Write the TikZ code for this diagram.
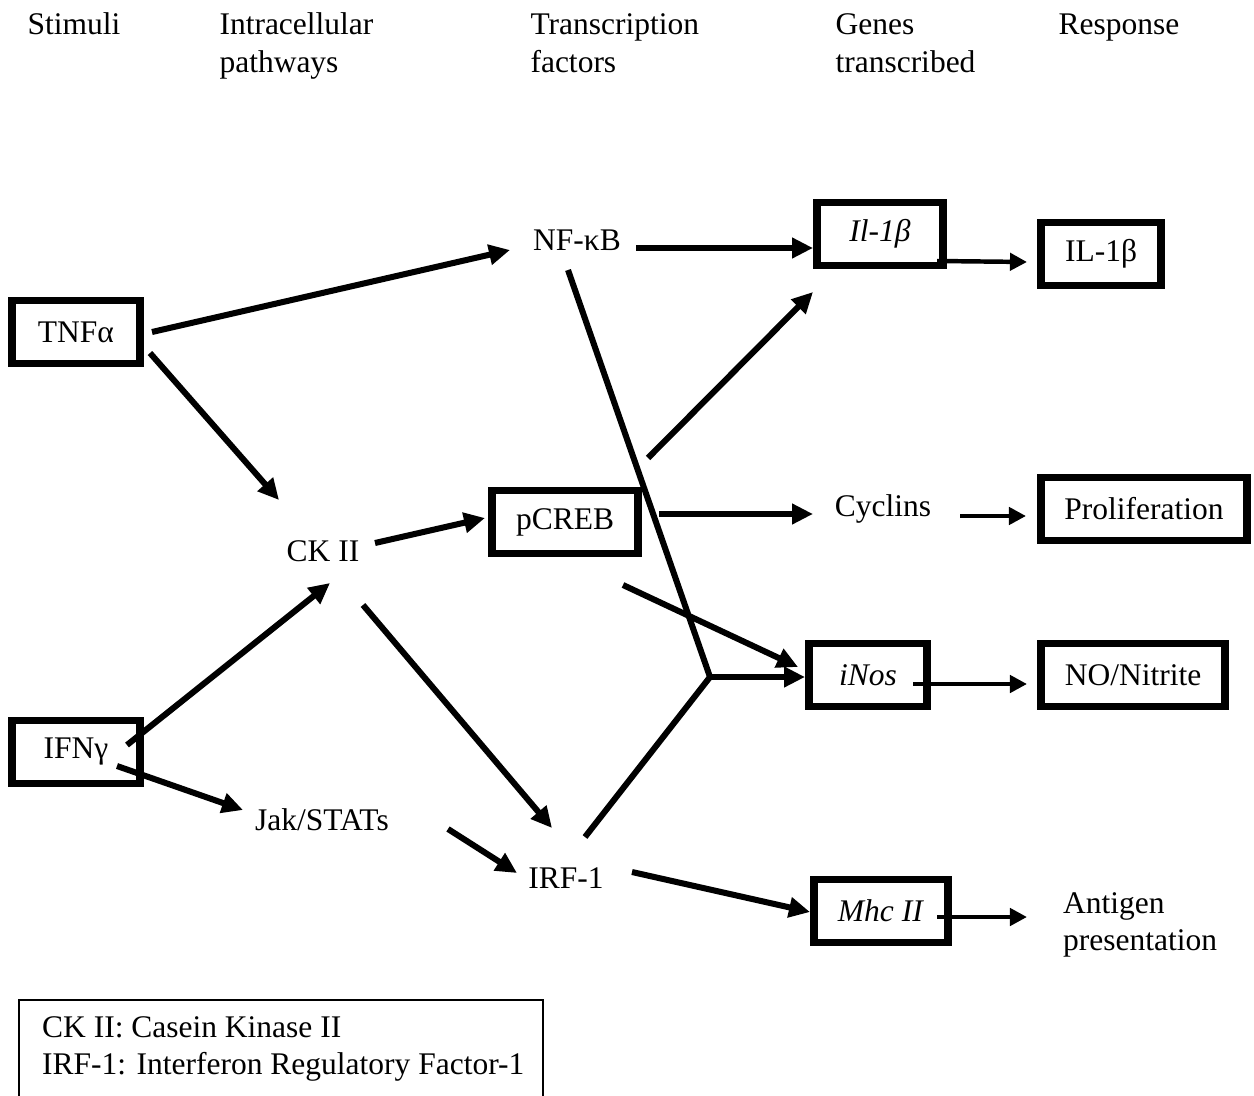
\documentclass[tikz,border=0pt]{standalone}
\usepackage{fontspec}
\setmainfont{Liberation Serif}
\usetikzlibrary{arrows.meta,calc}
\tikzset{
  box/.style={draw=black, line width=3pt, inner xsep=9pt, minimum height=24pt, minimum width=45pt},
  plain/.style={inner sep=1pt},
  colhead/.style={anchor=west, align=left, inner sep=0pt},
  arrow/.style={-{Triangle[length=8pt,width=7.5pt]}, line width=2.3pt},
  thinarrow/.style={-{Triangle[length=6.5pt,width=6.5pt]}, line width=1.7pt},
  link/.style={line width=2.3pt, line join=round},
  legendframe/.style={draw=black, line width=0.8pt}
}

\begin{document}
\begin{tikzpicture}[x=0.381pt, y=-0.381pt, font=\fontsize{12pt}{14.4pt}\selectfont]
  \useasboundingbox (0,0) rectangle (1254,1095);
  % column heads
  \node[colhead, anchor=base west] (hstim) at (27,35) {Stimuli};
  \node[colhead] (hpath) at (219,46) {Intracellular\\pathways};
  \node[colhead] (htf) at (530,43) {Transcription\\factors};
  \node[colhead] (hgene) at (835,43) {Genes\\transcribed};
  \node[colhead, anchor=base west] (hresp) at (1058,35) {Response};
  % stimuli and pathways
  \node[box, minimum width=49pt] (tnf) at (76,332) {TNFα};
  \node[box, minimum width=49pt] (ifn) at (76,752) {IFNγ};
  \node[plain] (ck) at (323,551) {CK II};
  \node[plain] (jak) at (322,820) {Jak/STATs};
  % transcription factors
  \node[plain] (nfkb) at (577,240) {NF-κB};
  \node[box] (creb) at (565,522) {pCREB};
  \node[plain] (irf) at (566,878) {IRF-1};
  % genes and responses
  \node[box, minimum width=48pt] (ilgene) at (880,234) {\textit{Il-1β}};
  \node[plain] (cyc) at (883,509) {Cyclins};
  \node[box] (inos) at (868,675) {\textit{iNos}};
  \node[box] (mhc) at (881,911) {\textit{Mhc II}};
  \node[box] (ilprot) at (1101,254) {IL-1β};
  \node[box] (prolif) at (1144,509) {Proliferation};
  \node[box] (nitrite) at (1133,675) {NO/Nitrite};
  \node[plain, anchor=west, align=left] (antigen) at (1060,925) {Antigen\\presentation};
  \coordinate (jn) at (710,677);

  \draw[arrow] ([shift={(76,0)}]tnf.center) -- ([shift={(-67,10)}]nfkb.center);
  \draw[arrow] ([shift={(74,21)}]tnf.center) -- ([shift={(-44,-51)}]ck.center);
  \draw[arrow] ([shift={(52,-8)}]ck.center) -- ([shift={(-80,-4)}]creb.center);
  \draw[arrow] ([shift={(51,-7)}]ifn.center) -- ([shift={(7,32)}]ck.center);
  \draw[arrow] ([shift={(41,14)}]ifn.center) -- ([shift={(-79,-10)}]jak.center);
  \draw[arrow] ([shift={(126,9)}]jak.center) -- ([shift={(-49,-5)}]irf.center);
  \draw[arrow] ([shift={(40,54)}]ck.center) -- ([shift={(-14,-50)}]irf.center);
  \draw[link] ([shift={(-9,30)}]nfkb.center) -- (jn);
  \draw[link] ([shift={(19,-41)}]irf.center) -- (jn);
  \draw[arrow] (jn) -- ([shift={(-63,2)}]inos.center);
  \draw[arrow] ([shift={(58,63)}]creb.center) -- ([shift={(-70,-8)}]inos.center);
  \draw[arrow] ([shift={(83,-64)}]creb.center) -- ([shift={(-67,58)}]ilgene.center);
  \draw[arrow] ([shift={(59,8)}]nfkb.center) -- ([shift={(-67,14)}]ilgene.center);
  \draw[arrow] ([shift={(94,-8)}]creb.center) -- ([shift={(-70,5)}]cyc.center);
  \draw[arrow] ([shift={(66,-6)}]irf.center) -- ([shift={(-71,1)}]mhc.center);
  \draw[thinarrow] ([shift={(57,27)}]ilgene.center) -- ([shift={(-74,8)}]ilprot.center);
  \draw[thinarrow] ([shift={(77,7)}]cyc.center) -- ([shift={(-118,7)}]prolif.center);
  \draw[thinarrow] ([shift={(45,9)}]inos.center) -- ([shift={(-106,9)}]nitrite.center);
  \draw[thinarrow] ([shift={(56,6)}]mhc.center) -- ([shift={(-33,-8)}]antigen.west);

  % legend
  \node[plain, anchor=west, align=left] (legtext) at (39,1049) {CK II: Casein Kinase II\\IRF-1: Interferon Regulatory Factor-1};
  \draw[legendframe] ([shift={(-20,-49)}]legtext.west) rectangle ++(524,120);
\end{tikzpicture}
\end{document}
